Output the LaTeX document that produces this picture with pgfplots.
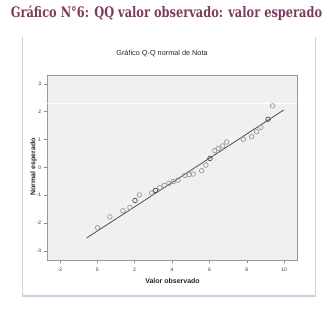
\documentclass[border=0pt]{standalone}
\usepackage{fontspec}
\setmainfont{Liberation Sans}
\newfontfamily\titlefont{DejaVu Serif}
\usepackage{pgfplots}
\pgfplotsset{compat=1.18}
\definecolor{titlecol}{HTML}{7E3A5C}
\definecolor{framecol}{HTML}{D5CCE4}
\definecolor{bgcol}{HTML}{F0F0F0}
\definecolor{markcol}{HTML}{959595}
\definecolor{darkmark}{HTML}{4A4A4A}
\definecolor{linecol}{HTML}{505050}
\begin{document}
\begin{tikzpicture}
\useasboundingbox (0pt,0pt) rectangle (333pt,312pt);
\node[anchor=base, text=titlecol, inner sep=0pt, font=\titlefont\bfseries\fontsize{14.5}{16}\selectfont] at (166.5pt,294pt) {\scalebox{0.786}[1]{Gráfico N°6: QQ valor observado: valor esperado}};
\draw[framecol, line width=1.5pt] (22.5pt,275pt) -- (22.5pt,16pt) -- (315.5pt,16pt) -- (315.5pt,275pt);
\node[font=\fontsize{7.3}{8}\selectfont, text=black!85] at (162pt,258pt) {Gráfico Q-Q normal de Nota};
\begin{axis}[
  at={(47.3pt,52pt)}, anchor=south west, scale only axis,
  width=250pt, height=185pt,
  xmin=-2.67, xmax=10.7, ymin=-3.33, ymax=3.32,
  axis background/.style={fill=bgcol},
  axis line style={draw=gray!80},
  xtick={-2,0,2,4,6,8,10}, ytick={-3,-2,-1,0,1,2,3},
  xtick pos=lower, ytick pos=left,
  tick align=outside, major tick length=3.5pt,
  tick style={gray!90, line width=0.5pt},
  /pgf/number format/assume math mode=true,
  tick label style={font=\fontsize{5}{6}\selectfont, text=black!80},
  xticklabel style={yshift=-1pt},
  yticklabel style={xshift=1pt},
  clip=true,
]
\addplot[white, line width=1pt, forget plot] coordinates {(-2.67,2.3) (10.7,2.3)};
\addplot[linecol, line width=0.8pt] coordinates {(-0.57,-2.54) (9.97,2.06)};
\addplot[only marks, mark=o, mark size=2.3pt, mark options={draw=markcol, line width=0.65pt}] coordinates {
(0.02,-2.17) (0.68,-1.78) (1.37,-1.56) (1.75,-1.44) (2.25,-0.99) (2.91,-0.92)
(3.35,-0.73) (3.59,-0.65) (3.83,-0.58) (4.07,-0.51) (4.32,-0.46) (4.69,-0.29)
(4.92,-0.26) (5.13,-0.24) (5.58,-0.12) (5.81,0.08) (6.29,0.60) (6.47,0.68)
(6.71,0.77) (6.92,0.91) (7.81,1.01) (8.26,1.10) (8.52,1.28) (8.75,1.44) (9.38,2.21)
};
\addplot[only marks, mark=o, mark size=2.3pt, mark options={draw=darkmark, line width=0.7pt}] coordinates {
(2.02,-1.19) (3.11,-0.83) (6.03,0.32) (9.14,1.73)
};
\end{axis}
\node[font=\bfseries\fontsize{7}{8}\selectfont, text=black!85] at (172.5pt,31pt) {Valor observado};
\node[font=\bfseries\fontsize{7}{8}\selectfont, text=black!85, rotate=90] at (33.5pt,145pt) {Normal esperado};
\end{tikzpicture}
\end{document}
